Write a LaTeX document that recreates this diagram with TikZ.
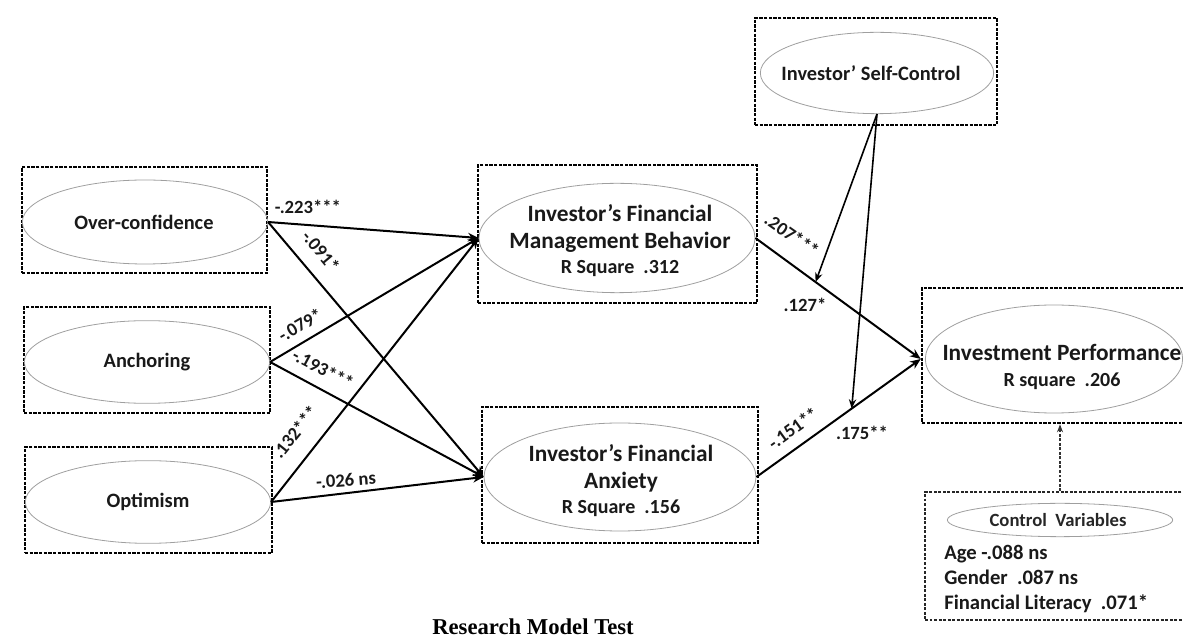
\documentclass[tikz,border=0pt]{standalone}
\usepackage{fontspec}
\setmainfont{Carlito}
\newfontfamily\capfont{Liberation Serif}
\usetikzlibrary{arrows.meta,fit,calc,shapes.geometric}
\begin{document}
\begin{tikzpicture}[x=0.75pt,y=-0.75pt,
  dbox/.style={draw=black, line width=1.9pt, dash pattern=on 2.4pt off 1.1pt, inner sep=0pt},
  cbox/.style={draw=black!85, line width=1.4pt, dash pattern=on 2.2pt off 1.2pt, inner sep=0pt},
  ell/.style={draw=gray!75, line width=0.6pt, ellipse, inner sep=0pt},
  ttl/.style={font=\bfseries\fontsize{15.3}{18}\selectfont, text=black!90},
  big/.style={font=\bfseries\fontsize{17.5}{21}\selectfont, text=black!90, align=center},
  lbl/.style={font=\bfseries\fontsize{14}{16}\selectfont, text=black!90, inner sep=1pt},
  conn/.style={line width=1.5pt, -{Stealth[length=8pt,width=6.5pt]}},
  modr/.style={line width=1.2pt, -{Stealth[length=7pt,width=5.5pt]}},
  ctl/.style={line width=1.2pt, dash pattern=on 2.2pt off 1.2pt, black!80, -{Stealth[length=6pt,width=4.5pt]}}
]
\useasboundingbox (0,0) rectangle (1183,641);
\clip (0,0) rectangle (1183,641);

% boxes
\node[dbox, fit={(22,167) (267,273)}] (ocbox) {};
\node[dbox, fit={(24,307) (270,413)}] (anbox) {};
\node[dbox, fit={(25,447) (272,553)}] (opbox) {};
\node[dbox, fit={(478,165) (757,303)}] (fmbbox) {};
\node[dbox, fit={(482,407) (758,543)}] (faxbox) {};
\node[dbox, fit={(755,18) (997,125)}] (scbox) {};
\node[dbox, fit={(922,288) (1200,423)}] (ipbox) {};
\node[cbox, fit={(925,492) (1200,620)}] (ctrlbox) {};

% ellipses
\node[ell, minimum width=184pt, minimum height=63pt] (oc) at (145,222) {};
\node[ell, minimum width=184pt, minimum height=62pt] (an) at (147,362) {};
\node[ell, minimum width=184pt, minimum height=62pt] (op) at (148,502) {};
\node[ell, minimum width=207pt, minimum height=82pt] (fmb) at (617,238) {};
\node[ell, minimum width=204pt, minimum height=81pt] (fax) at (620,477) {};
\node[ell, minimum width=175pt, minimum height=61pt] (sc) at (877,73) {};
\node[ell, minimum width=193pt, minimum height=81pt] (ip) at (1054,359) {};
\node[ell, minimum width=169pt, minimum height=25pt] (ctrl) at (1060,520) {};

% texts
\node[ttl] (octxt) at (144,222) {Over-confidence};
\node[ttl] (antxt) at (147,362) {Anchoring};
\node[ttl] (optxt) at (148,502) {Optimism};
\node[ttl] (sctxt) at (871,73) {Investor’ Self-Control};
\node[big] (fmbtxt) at (620,241) {Investor’s Financial\\[-1pt]Management Behavior\\[-2pt]{\fontsize{15}{17}\selectfont R Square~~.312}};
\node[big] (faxtxt) at (621,481) {Investor’s Financial\\[-1pt]Anxiety\\[-2pt]{\fontsize{15}{17}\selectfont R Square~~.156}};
\node[big] (iptxt) at (1062,367) {Investment Performance\\[-2pt]{\fontsize{15}{17}\selectfont R square~~.206}};
\node[font=\bfseries\fontsize{14}{16}\selectfont, text=black!85] (ctrltxt) at (1058,520) {Control~~Variables};
\node[font=\bfseries\fontsize{15.5}{18.75}\selectfont, text=black!90, align=left, anchor=west, inner sep=0pt] (ctrlvars) at (944,579) {Age -.088 ns\\Gender~~.087 ns\\Financial Literacy~~.071*};
\node[font=\capfont\bfseries\fontsize{17}{20}\selectfont, inner sep=1pt] (caption) at (533,627) {Research Model Test};

% paths from biases
\draw[conn] (oc.east) -- (fmb.west);
\draw[conn] (oc.east) -- (fax.west);
\draw[conn] (an.east) -- (fmb.west);
\draw[conn] (an.east) -- (fax.west);
\draw[conn] (op.east) -- (fmb.west);
\draw[conn] (op.east) -- (fax.west);

% mediators to outcome
\draw[conn] (fmb.east) -- coordinate[pos=0.364] (m1) (ipbox.west |- ip.center);
\draw[conn] (fax.east) -- coordinate[pos=0.58] (m2) (ipbox.west |- ip.center);

% moderator
\draw[modr] (sc.south) -- (m1);
\draw[modr] (sc.south) -- (m2);

% control variables
\draw[ctl] (ctrl.north |- ctrlbox.north) -- (ctrl.north |- ipbox.south);

% coefficient labels
\node[lbl] (l1) at (308,207) {-.223***};
\node[lbl, rotate=-50] (l2) at (321,251) {-.091*};
\node[lbl, rotate=30] (l3) at (300,325) {-.079*};
\node[lbl, rotate=-28] (l4) at (323,369) {-.193***};
\node[lbl, rotate=51] (l5) at (295,432) {.132***};
\node[lbl, rotate=4] (l6) at (346,480) {-.026 ns};
\node[lbl, rotate=-35] (l7) at (792,235) {.207***};
\node[lbl] (l8) at (805,305) {.127*};
\node[lbl, rotate=36] (l9) at (793,428) {-.151**};
\node[lbl] (l10) at (862,433) {.175**};
\end{tikzpicture}
\end{document}
